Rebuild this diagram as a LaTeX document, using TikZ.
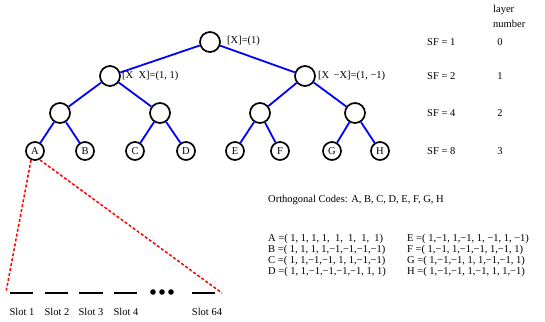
\documentclass[tikz,border=0pt]{standalone}
\usepackage{fontspec}
\setmainfont{Liberation Serif}
\begin{document}
\begin{tikzpicture}[x=1pt,y=-1pt,
  every node/.style={font=\fontsize{10.5}{12}\selectfont},
  inner/.style={circle,draw=black,line width=1.7pt,minimum size=20pt,inner sep=0pt},
  leaf/.style={circle,draw=black,line width=1.7pt,minimum size=18pt,inner sep=0pt},
  edge/.style={draw=blue,line width=1.8pt},
  lbl/.style={anchor=west,inner sep=0pt},
  red/.style={draw=red,line width=1.5pt,dash pattern=on 3pt off 2pt},
  slot/.style={line width=2pt}]
\useasboundingbox (0,0) rectangle (545,321);
% tree
\node[inner] (r) at (210,42) {};
\node[inner] (l1) at (110,76) {};
\node[inner] (r1) at (305,76) {};
\node[inner] (a2) at (60,113) {};
\node[inner] (b2) at (160,113) {};
\node[inner] (c2) at (260,113) {};
\node[inner] (d2) at (355,113) {};
\node[leaf] (A) at (35,151) {A};
\node[leaf] (B) at (85,151) {B};
\node[leaf] (C) at (135,151) {C};
\node[leaf] (D) at (186,151) {D};
\node[leaf] (E) at (235,151) {E};
\node[leaf] (F) at (280,151) {F};
\node[leaf] (G) at (332,151) {G};
\node[leaf] (H) at (380,151) {H};
\draw[edge] (r) -- (l1);
\draw[edge] (r) -- (r1);
\draw[edge] (l1) -- (a2);
\draw[edge] (l1) -- (b2);
\draw[edge] (r1) -- (c2);
\draw[edge] (r1) -- (d2);
\draw[edge] (a2) -- (A);
\draw[edge] (a2) -- (B);
\draw[edge] (b2) -- (C);
\draw[edge] (b2) -- (D);
\draw[edge] (c2) -- (E);
\draw[edge] (c2) -- (F);
\draw[edge] (d2) -- (G);
\draw[edge] (d2) -- (H);
% tree labels
\node[lbl] (t0) at (227,41) {[X]=(1)};
\node[lbl] (t1) at (122,76) {[X\ \ X]=(1, 1)};
\node[lbl] (t2) at (318,76) {[X \,−X]=(1, −1)};
% SF and layer
\node[lbl] (sf1) at (427,42) {SF = 1};
\node[lbl] (sf2) at (427,76) {SF = 2};
\node[lbl] (sf4) at (427,113) {SF = 4};
\node[lbl] (sf8) at (427,151) {SF = 8};
\node[lbl] (ly1) at (493,10) {layer};
\node[lbl] (ly2) at (493,24) {number};
\node (n0) at (500,42) {0};
\node (n1) at (500,76) {1};
\node (n2) at (500,113) {2};
\node (n3) at (500,151) {3};
% codes
\node[lbl] (oc) at (268,200) {Orthogonal Codes: A, B, C, D, E, F, G, H};
\node[lbl] (ca) at (268,239) {A =( 1, 1, 1, 1, \ 1, \ 1, \ 1, \ 1)};
\node[lbl] (cb) at (268,250) {B =( 1, 1, 1, 1,−1,−1,−1,−1)};
\node[lbl] (cc) at (268,261) {C =( 1, 1,−1,−1, 1, 1,−1,−1)};
\node[lbl] (cd) at (268,272) {D =( 1, 1,−1,−1,−1,−1, 1, 1)};
\node[lbl] (ce) at (407,239) {E =( 1,−1, 1,−1, 1, −1, 1, −1)};
\node[lbl] (cf) at (407,250) {F =( 1,−1, 1,−1,−1, 1,−1, 1)};
\node[lbl] (cg) at (407,261) {G =( 1,−1,−1, 1, 1,−1,−1, 1)};
\node[lbl] (ch) at (407,272) {H =( 1,−1,−1, 1,−1, 1, 1,−1)};
% slots
\draw[slot] (10,293) -- (33,293);
\draw[slot] (45,293) -- (68,293);
\draw[slot] (79,293) -- (103,293);
\draw[slot] (114,293) -- (137,293);
\draw[slot] (192,293) -- (215,293);
\fill (153,292) circle (2.8pt);
\fill (162,292) circle (2.8pt);
\fill (171,292) circle (2.8pt);
\node (s1) at (22,312) {Slot 1};
\node (s2) at (57,312) {Slot 2};
\node (s3) at (91,312) {Slot 3};
\node (s4) at (126,312) {Slot 4};
\node (s64) at (207,312) {Slot 64};
\coordinate (pl) at (6,292);
\coordinate (pr) at (222,293);
\draw[red] (A.south west) ++(3,2) -- (pl);
\draw[red] (A.south east) ++(-2,2) -- (pr);
\end{tikzpicture}
\end{document}
